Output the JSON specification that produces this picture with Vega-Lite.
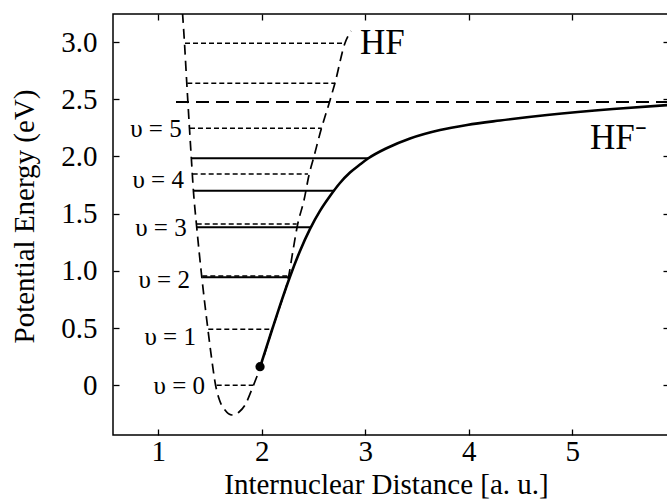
{
  "$schema": "https://vega.github.io/schema/vega-lite/v6.json",
  "width": 556,
  "height": 421,
  "autosize": "none",
  "padding": {"left": 113, "top": 14, "right": 0, "bottom": 69},
  "background": "white",
  "datasets": {
    "hf": [
      {"x": 1.234, "y": 3.254}, {"x": 1.253, "y": 2.992}, {"x": 1.275, "y": 2.642},
      {"x": 1.301, "y": 2.248}, {"x": 1.319, "y": 1.986}, {"x": 1.340, "y": 1.689},
      {"x": 1.369, "y": 1.401}, {"x": 1.420, "y": 0.946}, {"x": 1.480, "y": 0.483},
      {"x": 1.517, "y": 0.221}, {"x": 1.553, "y": 0.002}, {"x": 1.591, "y": -0.129},
      {"x": 1.644, "y": -0.217}, {"x": 1.712, "y": -0.260}, {"x": 1.780, "y": -0.234},
      {"x": 1.838, "y": -0.173}, {"x": 1.905, "y": -0.033}, {"x": 1.983, "y": 0.151},
      {"x": 2.098, "y": 0.483}, {"x": 2.176, "y": 0.693}, {"x": 2.258, "y": 0.946},
      {"x": 2.302, "y": 1.182}, {"x": 2.345, "y": 1.401}, {"x": 2.408, "y": 1.619},
      {"x": 2.456, "y": 1.838}, {"x": 2.500, "y": 1.986}, {"x": 2.577, "y": 2.248},
      {"x": 2.654, "y": 2.476}, {"x": 2.707, "y": 2.642}, {"x": 2.804, "y": 2.992},
      {"x": 2.862, "y": 3.096}
    ],
    "hfm": [
      {"x": 1.983, "y": 0.159}, {"x": 2.099, "y": 0.485}, {"x": 2.176, "y": 0.698},
      {"x": 2.273, "y": 0.951}, {"x": 2.369, "y": 1.174}, {"x": 2.466, "y": 1.367},
      {"x": 2.562, "y": 1.524}, {"x": 2.659, "y": 1.654}, {"x": 2.755, "y": 1.768},
      {"x": 2.852, "y": 1.859}, {"x": 2.948, "y": 1.929}, {"x": 3.026, "y": 1.982},
      {"x": 3.210, "y": 2.074}, {"x": 3.432, "y": 2.157}, {"x": 3.722, "y": 2.231},
      {"x": 3.983, "y": 2.275}, {"x": 4.302, "y": 2.314}, {"x": 4.756, "y": 2.362},
      {"x": 5.393, "y": 2.415}, {"x": 5.934, "y": 2.450}
    ],
    "levels": [
      {"kind": "HF", "y": 0.0, "x1": 1.564, "x2": 1.918},
      {"kind": "HF", "y": 0.489, "x1": 1.483, "x2": 2.096},
      {"kind": "HF", "y": 0.955, "x1": 1.425, "x2": 2.256},
      {"kind": "HF", "y": 1.409, "x1": 1.371, "x2": 2.337},
      {"kind": "HF", "y": 1.846, "x1": 1.332, "x2": 2.446},
      {"kind": "HF", "y": 2.246, "x1": 1.306, "x2": 2.579},
      {"kind": "HF", "y": 2.639, "x1": 1.280, "x2": 2.707},
      {"kind": "HF", "y": 2.989, "x1": 1.258, "x2": 2.804},
      {"kind": "HF-", "y": 0.943, "x1": 1.425, "x2": 2.266},
      {"kind": "HF-", "y": 1.380, "x1": 1.371, "x2": 2.466},
      {"kind": "HF-", "y": 1.700, "x1": 1.345, "x2": 2.700},
      {"kind": "HF-", "y": 1.984, "x1": 1.323, "x2": 3.026}
    ],
    "limit": [{"y": 2.476, "x1": 1.171, "x2": 5.934}],
    "dot": [{"x": 1.983, "y": 0.162}],
    "vlabels": [
      {"x": 1.226, "y": 2.240, "label": "υ = 5"},
      {"x": 1.248, "y": 1.794, "label": "υ = 4"},
      {"x": 1.274, "y": 1.372, "label": "υ = 3"},
      {"x": 1.306, "y": 0.920, "label": "υ = 2"},
      {"x": 1.364, "y": 0.419, "label": "υ = 1"},
      {"x": 1.451, "y": -0.007, "label": "υ = 0"}
    ],
    "names": [
      {"x": 2.949, "y": 2.992, "label": "HF"},
      {"x": 5.171, "y": 2.161, "label": "HF⁻"}
    ]
  },
  "resolve": {"axis": {"x": "independent", "y": "independent"}},
  "layer": [
    {
      "data": {"name": "hf"},
      "mark": {"type": "line", "color": "black", "strokeWidth": 1.7, "strokeDash": [10, 6], "interpolate": "monotone", "clip": true},
      "encoding": {
        "x": {"field": "x", "type": "quantitative", "scale": {"domain": [0.5623, 5.934], "nice": false, "zero": false},
          "axis": {"orient": "bottom", "values": [1, 2, 3, 4, 5], "labelPadding": 8, "title": "Internuclear Distance [a. u.]", "titleBaseline": "alphabetic", "titleY": 58, "titleX": 273}},
        "y": {"field": "y", "type": "quantitative", "scale": {"domain": [-0.435, 3.245], "nice": false, "zero": false},
          "axis": {"orient": "left", "values": [0, 0.5, 1, 1.5, 2, 2.5, 3], "labelExpr": "datum.value == 0 ? '0' : format(datum.value, '.1f')", "labelPadding": 22, "title": "Potential Energy (eV)", "titleAngle": 270, "titleBaseline": "alphabetic", "titleX": -80, "titleY": 202}}
      }
    },
    {
      "data": {"name": "hfm"},
      "mark": {"type": "line", "color": "black", "strokeWidth": 2.6, "interpolate": "monotone", "clip": true},
      "encoding": {
        "x": {"field": "x", "type": "quantitative", "scale": {"domain": [0.5623, 5.934], "nice": false, "zero": false},
          "axis": {"orient": "top", "values": [1, 2, 3, 4, 5], "labels": false, "title": null}},
        "y": {"field": "y", "type": "quantitative", "scale": {"domain": [-0.435, 3.245], "nice": false, "zero": false},
          "axis": {"orient": "right", "values": [0, 0.5, 1, 1.5, 2, 2.5, 3], "labels": false, "title": null}}
      }
    },
    {
      "data": {"name": "levels"},
      "transform": [{"filter": "datum.kind == 'HF'"}],
      "mark": {"type": "rule", "color": "black", "strokeWidth": 1.5, "strokeDash": [5, 3]},
      "encoding": {
        "x": {"field": "x1", "type": "quantitative", "axis": null},
        "x2": {"field": "x2"},
        "y": {"field": "y", "type": "quantitative", "axis": null}
      }
    },
    {
      "data": {"name": "levels"},
      "transform": [{"filter": "datum.kind == 'HF-'"}],
      "mark": {"type": "rule", "color": "black", "strokeWidth": 2.0},
      "encoding": {
        "x": {"field": "x1", "type": "quantitative", "axis": null},
        "x2": {"field": "x2"},
        "y": {"field": "y", "type": "quantitative", "axis": null}
      }
    },
    {
      "data": {"name": "limit"},
      "mark": {"type": "rule", "color": "black", "strokeWidth": 1.8, "strokeDash": [13, 7]},
      "encoding": {
        "x": {"field": "x1", "type": "quantitative", "axis": null},
        "x2": {"field": "x2"},
        "y": {"field": "y", "type": "quantitative", "axis": null}
      }
    },
    {
      "data": {"name": "dot"},
      "mark": {"type": "point", "filled": true, "color": "black", "opacity": 1, "size": 85},
      "encoding": {
        "x": {"field": "x", "type": "quantitative", "axis": null},
        "y": {"field": "y", "type": "quantitative", "axis": null}
      }
    },
    {
      "data": {"name": "vlabels"},
      "mark": {"type": "text", "align": "right", "baseline": "middle", "font": "Liberation Serif", "fontSize": 25, "color": "black"},
      "encoding": {
        "x": {"field": "x", "type": "quantitative", "axis": null},
        "y": {"field": "y", "type": "quantitative", "axis": null},
        "text": {"field": "label"}
      }
    },
    {
      "data": {"name": "names"},
      "mark": {"type": "text", "align": "left", "baseline": "middle", "font": "Liberation Serif", "fontSize": 35, "color": "black"},
      "encoding": {
        "x": {"field": "x", "type": "quantitative", "axis": null},
        "y": {"field": "y", "type": "quantitative", "axis": null},
        "text": {"field": "label"}
      }
    }
  ],
  "config": {
    "font": "Liberation Serif",
    "view": {"stroke": "black", "strokeWidth": 1.5},
    "axis": {
      "grid": false,
      "domain": false,
      "tickColor": "black",
      "tickSize": -6,
      "tickWidth": 1.3,
      "labelFont": "Liberation Serif",
      "labelFontSize": 29,
      "labelColor": "black",
      "titleFont": "Liberation Serif",
      "titleFontSize": 29,
      "titleFontWeight": "normal",
      "titleColor": "black"
    }
  }
}
